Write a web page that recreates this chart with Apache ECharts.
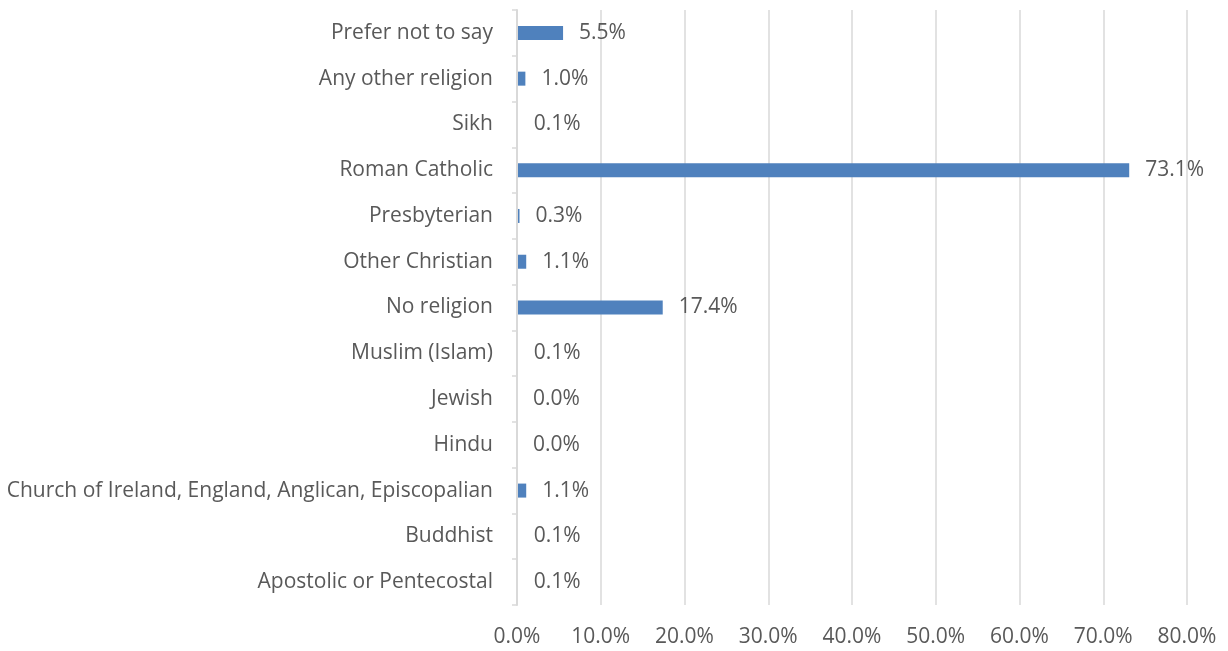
<!DOCTYPE html>
<html>
<head>
<meta charset="utf-8">
<script src="https://cdn.jsdelivr.net/npm/echarts@6/dist/echarts.min.js"></script>
<style>
  html, body { margin: 0; padding: 0; background: #ffffff; }
  #chart { width: 1228px; height: 651px; }
</style>
</head>
<body>
<div id="chart"></div>
<script>
// Religion categories, listed from the bottom of the axis upwards
const categories = [
  'Apostolic or Pentecostal',
  'Buddhist',
  'Church of Ireland, England, Anglican, Episcopalian',
  'Hindu',
  'Jewish',
  'Muslim (Islam)',
  'No religion',
  'Other Christian',
  'Presbyterian',
  'Roman Catholic',
  'Sikh',
  'Any other religion',
  'Prefer not to say'
];

// Share of respondents, in percent
const shares = [0.1, 0.1, 1.1, 0.0, 0.0, 0.1, 17.4, 1.1, 0.3, 73.1, 0.1, 1.0, 5.5];

// Value axis range and step, in percent
const axisMin = 0;
const axisMax = 80;
const axisStep = 10;

const textColor = '#595959';
const lineColor = '#d9d9d9';
const fontFamily = '"Open Sans", sans-serif';

const chart = echarts.init(document.getElementById('chart'), null, { renderer: 'canvas' });

chart.setOption({
  animation: false,
  backgroundColor: '#ffffff',
  grid: { left: 517, right: 41, top: 10, bottom: 46, containLabel: false },
  xAxis: {
    type: 'value',
    min: axisMin,
    max: axisMax,
    interval: axisStep,
    axisLine: { show: false },
    axisTick: { show: false },
    axisLabel: {
      color: textColor,
      fontFamily: fontFamily,
      fontSize: 21,
      margin: 22,
      formatter: v => v.toFixed(1) + '%'
    },
    splitLine: { show: true, lineStyle: { color: lineColor, width: 1.5 } }
  },
  yAxis: {
    type: 'category',
    data: categories,
    z: 3,
    axisLine: { show: true, lineStyle: { color: lineColor, width: 2 } },
    axisTick: { show: true, length: 5, alignWithLabel: false, lineStyle: { color: lineColor, width: 1.5 } },
    axisLabel: {
      color: textColor,
      fontFamily: fontFamily,
      fontSize: 21,
      margin: 24,
      padding: [4, 0, 0, 0]
    },
    splitLine: { show: false }
  },
  series: [{
    type: 'bar',
    data: shares,
    barWidth: 14,
    itemStyle: { color: '#4f81bd' },
    label: {
      show: true,
      position: 'right',
      distance: 16,
      color: textColor,
      fontFamily: fontFamily,
      fontSize: 21,
      padding: [5, 0, 0, 0],
      formatter: p => p.value.toFixed(1) + '%'
    }
  }]
});
</script>
</body>
</html>
